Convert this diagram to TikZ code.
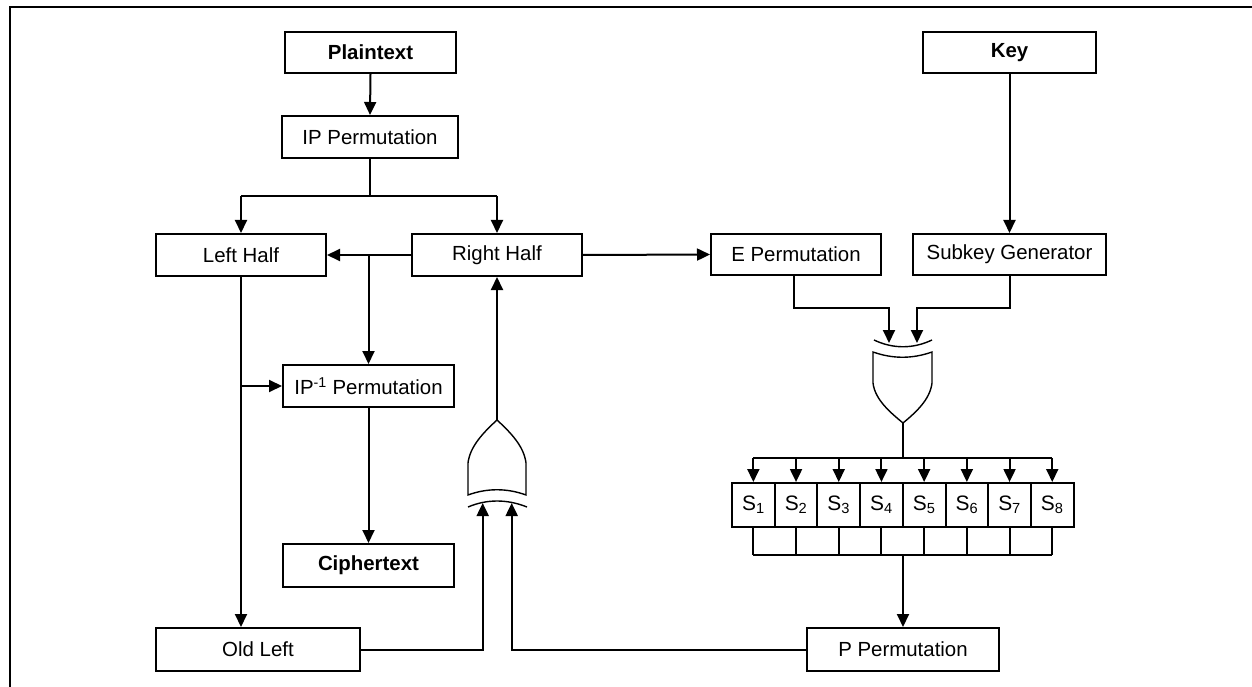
\documentclass[tikz,border=0pt]{standalone}
\usepackage{fontspec}
\setmainfont{Liberation Sans}
\usetikzlibrary{arrows.meta,calc}
\begin{document}
\begin{tikzpicture}[x=1bp,y=-1bp,
  box/.style={draw,line width=2bp,inner sep=0pt,font=\fontsize{20.5}{24}\selectfont},
  sbox/.style={draw,line width=2bp,inner sep=0pt,minimum width=42.7bp,minimum height=44bp,font=\fontsize{21}{24}\selectfont},
  wire/.style={line width=2bp},
  arr/.style={line width=2bp,-{Triangle[width=12bp,length=13bp]}},
  gate/.style={line width=1.4bp}]
\useasboundingbox (0,0) rectangle (1252,687);
\draw[line width=2.4bp] (10,690) -- (10,7) -- (1255,7);
% boxes
\node[box,minimum width=171bp,minimum height=41bp] (plain) at (370.5,52.5) {\bfseries Plaintext};
\node[box,minimum width=176bp,minimum height=42bp] (ip) at (370,137) {IP Permutation};
\node[box,minimum width=170bp,minimum height=42bp] (left) at (241,255) {Left Half};
\node[box,minimum width=170bp,minimum height=42bp] (right) at (497,255) {Right Half};
\node[box,minimum width=171bp,minimum height=42bp] (ipinv) at (368.5,386) {IP\textsuperscript{-1} Permutation};
\node[box,minimum width=171bp,minimum height=43bp] (cipher) at (368.5,565.5) {\bfseries Ciphertext};
\node[box,minimum width=204bp,minimum height=43bp] (oldleft) at (258,649.5) {Old Left};
\node[box,minimum width=192bp,minimum height=43bp] (pperm) at (903,649.5) {P Permutation};
\node[box,minimum width=170bp,minimum height=41bp] (eperm) at (796,254.5) {E Permutation};
\node[box,minimum width=193bp,minimum height=41bp] (subkey) at (1009.5,254.5) {Subkey Generator};
\node[box,minimum width=173bp,minimum height=41bp] (key) at (1009.5,52.5) {\bfseries Key};
% S boxes
\foreach \i in {1,...,8} {
  \node[sbox] (s\i) at ({732+42.7*(\i-0.5)},505) {S\textsubscript{\i}};
}
% gate 1 (points down)
\draw[gate] (874,340) .. controls (893,349) and (913,349) .. (932,340);
\draw[gate] (873,352) .. controls (893,359) and (912,359) .. (932,352) -- (932,383)
  .. controls (930,400) and (915,413) .. (903,423) .. controls (891,413) and (875,400) .. (873,383) -- cycle;
\coordinate (g1a) at (889,343);
\coordinate (g1b) at (917,343);
\coordinate (g1out) at (903,423);
% gate 2 (points up)
\draw[gate] (468,495) .. controls (487,488) and (507,488) .. (526,495) -- (526,463)
  .. controls (524,446) and (510,432) .. (497,420) .. controls (484,432) and (470,446) .. (468,463) -- cycle;
\draw[gate] (468,507) .. controls (487,499) and (507,499) .. (527,507);
\coordinate (g2a) at (482.7,503);
\coordinate (g2b) at (511.7,503);
\coordinate (g2out) at (497,420);
% connectors
\draw[arr] (plain.south) -- (ip.north);
\coordinate (sl) at (241,196);
\coordinate (sr) at (497,196);
\draw[wire] (ip.south) -- (ip.south |- sl);
\draw[wire] (sl) -- (sr);
\draw[arr] (sl) -- (left.north);
\draw[arr] (sr) -- (right.north);
\draw[arr] (right.west) -- (left.east);
\coordinate (br) at (ipinv.north |- right.west);
\draw[arr] (br) -- (ipinv.north);
\draw[arr] (left.south) -- (left.south |- oldleft.north);
\draw[arr] (left.south |- ipinv.west) -- (ipinv.west);
\draw[arr] (ipinv.south) -- (cipher.north);
\draw[arr] (g2out) -- (right.south);
\draw[arr] (right.east) -- (eperm.west);
\draw[arr] (key.south) -- (subkey.north);
\draw[arr] ($(eperm.south)+(-2,0)$) |- ($(g1a)+(0,-35)$) -- (g1a);
\draw[arr] (subkey.south) |- ($(g1b)+(0,-35)$) -- (g1b);
\coordinate (dist) at (903,458);
\draw[wire] (g1out) -- (dist);
\draw[wire] (s1.north |- dist) -- (s8.north |- dist);
\foreach \i in {1,...,8} {
  \draw[arr] (s\i.north |- dist) -- (s\i.north);
}
\coordinate (comb) at (903,555);
\foreach \i in {1,...,8} {
  \draw[wire] (s\i.south) -- (s\i.south |- comb);
}
\draw[wire] (s1.south |- comb) -- (s8.south |- comb);
\draw[arr] (comb) -- (pperm.north);
\draw[arr] (oldleft.east) -| (g2a);
\draw[arr] (pperm.west) -| (g2b);
\end{tikzpicture}
\end{document}
